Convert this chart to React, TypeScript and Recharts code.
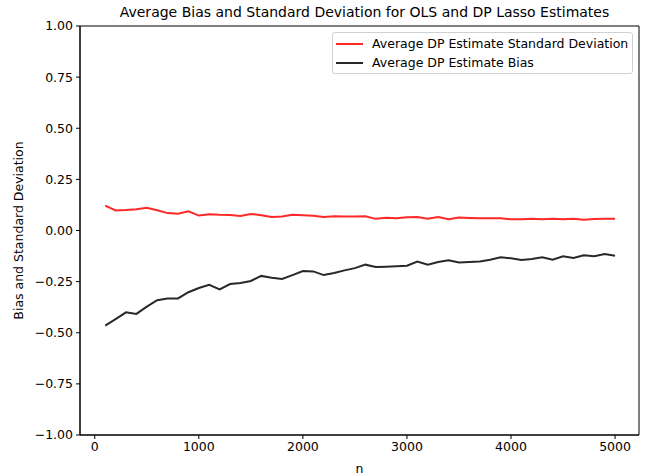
import React from 'react';
import { LineChart, Line, XAxis, YAxis, ReferenceArea, Label } from 'recharts';

const nValues = [
  100, 200, 300, 400, 500, 600, 700, 800, 900, 1000,
  1100, 1200, 1300, 1400, 1500, 1600, 1700, 1800, 1900, 2000,
  2100, 2200, 2300, 2400, 2500, 2600, 2700, 2800, 2900, 3000,
  3100, 3200, 3300, 3400, 3500, 3600, 3700, 3800, 3900, 4000,
  4100, 4200, 4300, 4400, 4500, 4600, 4700, 4800, 4900, 5000,
];

const sdValues = [
  0.122, 0.098, 0.100, 0.104, 0.111, 0.099, 0.085, 0.082, 0.094, 0.073,
  0.080, 0.077, 0.076, 0.071, 0.081, 0.075, 0.066, 0.068, 0.077, 0.075,
  0.072, 0.066, 0.070, 0.069, 0.068, 0.070, 0.057, 0.062, 0.060, 0.065,
  0.066, 0.058, 0.066, 0.055, 0.063, 0.061, 0.060, 0.060, 0.060, 0.055,
  0.055, 0.057, 0.055, 0.058, 0.055, 0.058, 0.053, 0.056, 0.058, 0.058,
];

const biasValues = [
  -0.465, -0.433, -0.400, -0.408, -0.372, -0.341, -0.332, -0.332, -0.302, -0.281,
  -0.266, -0.288, -0.262, -0.257, -0.247, -0.222, -0.231, -0.237, -0.218, -0.198,
  -0.200, -0.218, -0.208, -0.195, -0.184, -0.167, -0.178, -0.177, -0.175, -0.172,
  -0.152, -0.167, -0.154, -0.146, -0.156, -0.154, -0.151, -0.143, -0.131, -0.136,
  -0.144, -0.139, -0.131, -0.143, -0.126, -0.134, -0.121, -0.126, -0.115, -0.123,
];

const xTicks = [0, 1000, 2000, 3000, 4000, 5000];
const yTicks = [-1, -0.75, -0.5, -0.25, 0, 0.25, 0.5, 0.75, 1];

const titleText = 'Average Bias and Standard Deviation for OLS and DP Lasso Estimates';
const xLabel = 'n';
const yLabel = 'Bias and Standard Deviation';
const sdName = 'Average DP Estimate Standard Deviation';
const biasName = 'Average DP Estimate Bias';

const data = nValues.map((n, i) => ({ n, sd: sdValues[i], bias: biasValues[i] }));

const FONT = '"DejaVu Sans", sans-serif';
const X_DOMAIN: [number, number] = [-142, 5230];
const SD_COLOR = 'rgb(255,40,40)';
const BIAS_COLOR = 'rgb(40,40,40)';

const fmtY = (v: number) => {
  const s = Math.abs(v).toFixed(2);
  return v < 0 ? '\u2212' + s : s;
};

export default function App() {
  return (
    <div
      style={{
        position: 'absolute',
        left: 0,
        top: 0,
        width: 649,
        height: 476,
        background: '#fff',
        fontFamily: FONT,
        color: '#000',
      }}
    >
      <div
        style={{
          position: 'absolute',
          left: 85,
          width: 559,
          top: 4,
          textAlign: 'center',
          fontSize: 14,
          lineHeight: '17px',
          whiteSpace: 'nowrap',
        }}
      >
        {titleText}
      </div>
      <LineChart
        width={649}
        height={476}
        data={data}
        margin={{ top: 26, right: 10, bottom: 0, left: 0 }}
        style={{ fontFamily: FONT }}
      >
        <XAxis
          dataKey="n"
          type="number"
          domain={X_DOMAIN}
          ticks={xTicks}
          interval={0}
          allowDataOverflow
          height={41}
          tickSize={4}
          tickMargin={3}
          stroke="#000"
          tick={{ fill: '#000', fontSize: 12.5, fontFamily: FONT }}
        >
          <Label
            value={xLabel}
            position="insideBottom"
            offset={3}
            style={{ fill: '#000', fontSize: 12.5, fontFamily: FONT }}
          />
        </XAxis>
        <YAxis
          type="number"
          domain={[-1, 1]}
          ticks={yTicks}
          interval={0}
          allowDataOverflow
          width={80}
          tickSize={4}
          tickMargin={3}
          stroke="#000"
          tickFormatter={fmtY}
          tick={{ fill: '#000', fontSize: 12.5, fontFamily: FONT }}
        >
          <Label
            content={(props: any) => {
              const vb = props.viewBox || { x: 0, y: 26, width: 80, height: 409 };
              const cy = vb.y + vb.height / 2;
              const cx = 18;
              return (
                <text
                  x={cx}
                  y={cy}
                  transform={`rotate(-90, ${cx}, ${cy})`}
                  textAnchor="middle"
                  dominantBaseline="central"
                  fill="#000"
                  fontSize={12.5}
                  fontFamily={FONT}
                >
                  {yLabel}
                </text>
              );
            }}
          />
        </YAxis>
        <ReferenceArea
          x1={X_DOMAIN[0]}
          x2={X_DOMAIN[1]}
          y1={-1}
          y2={1}
          fill="none"
          fillOpacity={0}
          stroke="#000"
          strokeWidth={1}
          ifOverflow="visible"
        />
        <Line
          dataKey="sd"
          type="linear"
          stroke={SD_COLOR}
          strokeWidth={2}
          dot={false}
          activeDot={false}
          isAnimationActive={false}
        />
        <Line
          dataKey="bias"
          type="linear"
          stroke={BIAS_COLOR}
          strokeWidth={2}
          dot={false}
          activeDot={false}
          isAnimationActive={false}
        />
      </LineChart>
      <div
        style={{
          position: 'absolute',
          left: 332,
          top: 32,
          width: 301,
          height: 42,
          boxSizing: 'border-box',
          border: '1px solid #d0d0d0',
          borderRadius: 3,
          background: 'rgba(255,255,255,0.8)',
          fontSize: 12.5,
        }}
      >
        {[
          { name: sdName, color: SD_COLOR },
          { name: biasName, color: BIAS_COLOR },
        ].map((it, i) => (
          <div
            key={it.name}
            style={{
              position: 'absolute',
              left: 0,
              top: 2 + i * 19,
              height: 18,
              width: '100%',
            }}
          >
            <div
              style={{
                position: 'absolute',
                left: 3,
                top: 8,
                width: 27,
                height: 2,
                background: it.color,
              }}
            />
            <div
              style={{
                position: 'absolute',
                left: 39,
                top: 0,
                lineHeight: '18px',
                whiteSpace: 'nowrap',
              }}
            >
              {it.name}
            </div>
          </div>
        ))}
      </div>
    </div>
  );
}
